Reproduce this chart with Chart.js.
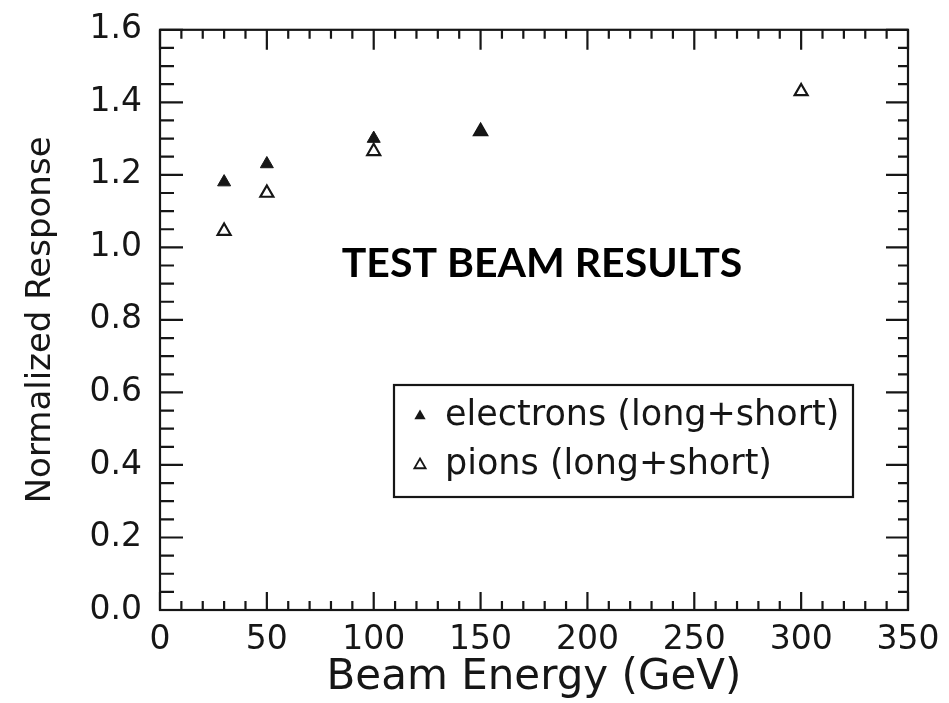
<!DOCTYPE html>
<html><head><meta charset="utf-8">
<script src="https://cdn.jsdelivr.net/npm/chart.js@4"></script>
<style>html,body{margin:0;padding:0;background:#fff}#wrap{width:949px;height:703px;position:relative}</style>
</head><body><div id="wrap"><canvas id="c"></canvas></div>
<script>
const electronEnergy = [30, 50, 100, 150];
const electronResponse = [1.18, 1.23, 1.30, 1.32];
const pionEnergy = [30, 50, 100, 150, 300];
const pionResponse = [1.045, 1.15, 1.265, 1.32, 1.43];
const seriesLabels = ['electrons (long+short)', 'pions (long+short)'];
const xTickValues = [0, 50, 100, 150, 200, 250, 300, 350];
const yTickValues = [0, 0.2, 0.4, 0.6, 0.8, 1.0, 1.2, 1.4, 1.6];
const xTitle = 'Beam Energy (GeV)';
const yTitle = 'Normalized Response';
const annotationText = 'TEST BEAM RESULTS';

const INK = '#161616';
const AX_FONT = 'DejaVu Sans';

const framePlugin = {
  id: 'frame',
  beforeDatasetsDraw(chart) {
    const {ctx, chartArea: a, scales: {x, y}} = chart;
    ctx.save();
    ctx.strokeStyle = INK; ctx.lineWidth = 2.2;
    ctx.strokeRect(a.left, a.top, a.right - a.left, a.bottom - a.top);
    ctx.beginPath();
    const xs = xTickValues[0], xe = xTickValues[xTickValues.length - 1];
    const nx = Math.round((xe - xs) / 10);
    for (let i = 0; i <= nx; i++) {
      const v = xs + i * 10; const major = i % 5 === 0;
      const p = x.getPixelForValue(v);
      ctx.moveTo(p, a.bottom); ctx.lineTo(p, a.bottom - (major ? 18 : 9));
      ctx.moveTo(p, a.top); ctx.lineTo(p, a.top + (major ? 20 : 9));
    }
    const ys = yTickValues[0], ye = yTickValues[yTickValues.length - 1];
    const ny = Math.round((ye - ys) / 0.05);
    for (let i = 0; i <= ny; i++) {
      const v = ys + i * 0.05; const major = i % 4 === 0;
      const p = y.getPixelForValue(v);
      ctx.moveTo(a.left, p); ctx.lineTo(a.left + (major ? 23 : 14), p);
      ctx.moveTo(a.right, p); ctx.lineTo(a.right - (major ? 22 : 10), p);
    }
    ctx.stroke();
    ctx.restore();
  }
};

function tri(ctx, cx, cy, r, filled) {
  ctx.beginPath();
  ctx.moveTo(cx, cy - r);
  ctx.lineTo(cx + r * 0.866, cy + r * 0.5);
  ctx.lineTo(cx - r * 0.866, cy + r * 0.5);
  ctx.closePath();
  if (filled) { ctx.fillStyle = INK; ctx.fill(); }
  else { ctx.lineWidth = 1.8; ctx.strokeStyle = INK; ctx.stroke(); }
}

const overlayPlugin = {
  id: 'overlay',
  afterDraw(chart) {
    const {ctx} = chart;
    ctx.save();
    ctx.fillStyle = '#000';
    ctx.font = 'bold 41px Lato';
    ctx.textAlign = 'center'; ctx.textBaseline = 'alphabetic';
    ctx.fillText(annotationText, 542, 277);
    ctx.strokeStyle = INK; ctx.lineWidth = 2.2;
    ctx.strokeRect(394, 385, 459, 112);
    ctx.font = '35px ' + AX_FONT;
    ctx.textAlign = 'left'; ctx.fillStyle = INK;
    const rows = [425, 474];
    chart.data.datasets.forEach((ds, i) => {
      tri(ctx, 420, rows[i] - 9, 6.5, i === 0);
      ctx.fillStyle = INK;
      ctx.fillText(ds.label, 445, rows[i]);
    });
    ctx.restore();
  }
};

new Chart(document.getElementById('c'), {
  type: 'scatter',
  data: {
    datasets: [
      { label: seriesLabels[0],
        data: electronEnergy.map((e, i) => ({x: e, y: electronResponse[i]})),
        pointStyle: 'triangle', pointRadius: 7.5, backgroundColor: INK, borderColor: INK, borderWidth: 1 },
      { label: seriesLabels[1],
        data: pionEnergy.map((e, i) => ({x: e, y: pionResponse[i]})),
        pointStyle: 'triangle', pointRadius: 7.5, backgroundColor: 'rgba(0,0,0,0)', borderColor: INK, borderWidth: 2.2 }
    ]
  },
  options: {
    responsive: true, maintainAspectRatio: false, animation: false,
    layout: { padding: { left: 0, top: 22, right: 41, bottom: 0 } },
    plugins: { legend: { display: false }, tooltip: { enabled: false } },
    scales: {
      x: {
        type: 'linear', min: 0, max: 350,
        afterBuildTicks: s => { s.ticks = xTickValues.map(v => ({value: v})); },
        afterFit: s => { s.height = 93; },
        grid: { display: false }, border: { display: false },
        ticks: { color: INK, font: { family: AX_FONT, size: 33 }, padding: 3, maxRotation: 0, autoSkip: false },
        title: { display: true, text: xTitle, color: INK, font: { family: AX_FONT, size: 42 }, padding: { top: 0, bottom: 0 } }
      },
      y: {
        type: 'linear', min: 0, max: 1.6,
        afterBuildTicks: s => { s.ticks = yTickValues.map(v => ({value: v})); },
        afterFit: s => { s.width = 160; },
        grid: { display: false }, border: { display: false },
        ticks: { color: INK, font: { family: AX_FONT, size: 33 }, padding: 10, autoSkip: false,
                 callback: v => Number(v).toFixed(1) },
        title: { display: true, text: yTitle, color: INK, font: { family: AX_FONT, size: 34 }, padding: { top: 21, bottom: 0 } }
      }
    }
  },
  plugins: [framePlugin, overlayPlugin]
});
</script></body></html>
